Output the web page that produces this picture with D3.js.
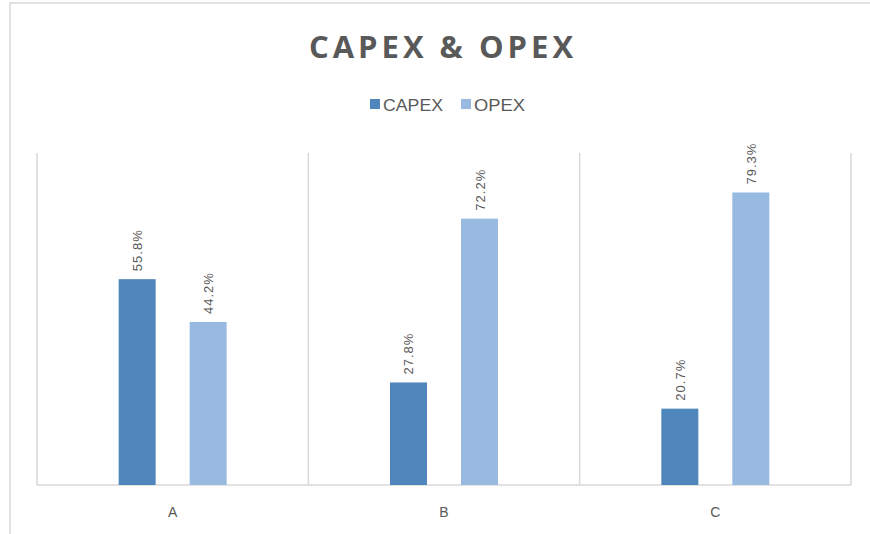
<!DOCTYPE html>
<html>
<head>
<meta charset="utf-8">
<script src="https://cdn.jsdelivr.net/npm/d3@7"></script>
<style>
  body { margin: 0; background: #fff; }
  svg { display: block; }
</style>
</head>
<body>
<div class="container"></div>
<script>
// chart data
const categories = ['A', 'B', 'C'];
const seriesNames = ['CAPEX', 'OPEX'];
const capex = [55.8, 27.8, 20.7];
const opex = [44.2, 72.2, 79.3];
const colors = ['#4f87bc', '#98b9e0'];

const W = 870, H = 534;
const plotTop = 153, plotBottom = 485, plotLeft = 37, plotRight = 851;

var svg = d3.select('.container')
  .append('svg')
  .attr('width', W)
  .attr('height', H);

// outer chart frame
svg.append('rect')
  .attr('x', 10).attr('y', 3)
  .attr('width', 880).attr('height', 560)
  .attr('fill', 'none')
  .attr('stroke', '#d9d9d9')
  .attr('stroke-width', 1.5);

var x0 = d3.scaleBand().domain(categories).range([plotLeft, plotRight]);
var bw = x0.bandwidth();
var x1 = d3.scaleBand().domain(seriesNames)
  .range([bw / 2 - 54, bw / 2 + 54])
  .paddingInner(0.479);
var y = d3.scaleLinear().domain([0, 90]).range([plotBottom, plotTop]);

// vertical category separators
var seps = categories.map(c => x0(c)).concat([plotRight]);
svg.selectAll('.sep').data(seps).enter().append('line')
  .attr('x1', d => d).attr('x2', d => d)
  .attr('y1', y(90)).attr('y2', y(0))
  .attr('stroke', '#d9d9d9')
  .attr('stroke-width', 1.5);

// baseline
svg.append('line')
  .attr('x1', plotLeft).attr('x2', plotRight)
  .attr('y1', y(0)).attr('y2', y(0))
  .attr('stroke', '#d9d9d9')
  .attr('stroke-width', 1.5);

var rows = [];
categories.forEach((c, i) => {
  rows.push({cat: c, s: 'CAPEX', v: capex[i], color: colors[0]});
  rows.push({cat: c, s: 'OPEX', v: opex[i], color: colors[1]});
});

svg.selectAll('.bar').data(rows).enter().append('rect')
  .attr('x', d => x0(d.cat) + x1(d.s))
  .attr('y', d => y(d.v))
  .attr('width', x1.bandwidth())
  .attr('height', d => y(0) - y(d.v))
  .attr('fill', d => d.color);

// rotated value labels
svg.selectAll('.lbl').data(rows).enter().append('text')
  .attr('transform', d => 'translate(' + (x0(d.cat) + x1(d.s) + x1.bandwidth() / 2 + 5) + ',' + (y(d.v) - 8) + ') rotate(-90)')
  .attr('font-family', 'Liberation Sans, Arial, sans-serif')
  .attr('font-size', 13)
  .attr('letter-spacing', 1)
  .attr('fill', '#595959')
  .text(d => d.v.toFixed(1) + '%');

// category labels
svg.selectAll('.cat').data(categories).enter().append('text')
  .attr('x', d => x0(d) + bw / 2)
  .attr('y', 517)
  .attr('text-anchor', 'middle')
  .attr('font-family', 'Liberation Sans, Arial, sans-serif')
  .attr('font-size', 14)
  .attr('fill', '#595959')
  .text(d => d);

// title
svg.append('text')
  .attr('x', 443).attr('y', 58)
  .attr('text-anchor', 'middle')
  .attr('font-family', 'Open Sans, sans-serif')
  .attr('font-weight', 'bold')
  .attr('font-size', 31)
  .attr('letter-spacing', 4)
  .attr('fill', '#595959')
  .text('CAPEX & OPEX');

// legend
var legendX = [370, 461];
seriesNames.forEach((s, i) => {
  svg.append('rect')
    .attr('x', legendX[i]).attr('y', 99)
    .attr('width', 10).attr('height', 10)
    .attr('fill', colors[i]);
  svg.append('text')
    .attr('x', legendX[i] + 13).attr('y', 111)
    .attr('font-family', 'Liberation Sans Narrow, Liberation Sans, Arial, sans-serif')
    .attr('font-size', 17)
    .attr('textLength', i === 0 ? 60 : 51)
    .attr('lengthAdjust', 'spacingAndGlyphs')
    .attr('fill', '#595959')
    .text(s);
});
</script>
</body>
</html>
